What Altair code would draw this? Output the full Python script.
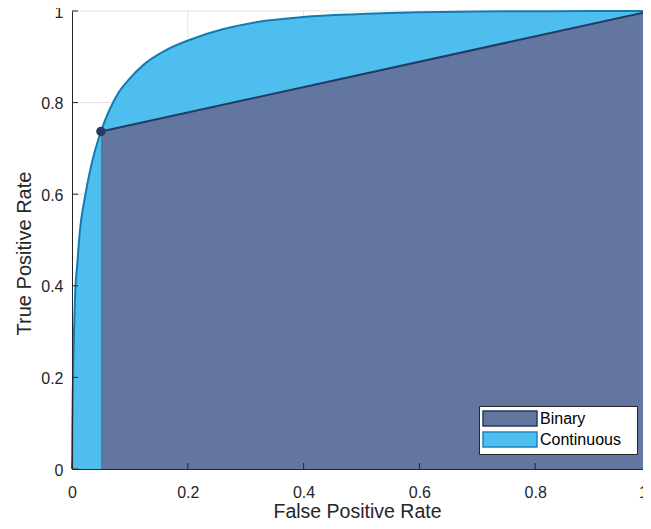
import altair as alt
import pandas as pd

# Continuous ROC curve
fpr = [0, 0.0005, 0.0012, 0.0023, 0.0035, 0.0052, 0.0092, 0.0138, 0.0225, 0.034,
       0.05, 0.065, 0.08, 0.10, 0.125, 0.16, 0.21, 0.26, 0.32, 0.40,
       0.49, 0.60, 0.70, 0.80, 0.90, 1.0]
tpr = [0, 0.085, 0.158, 0.231, 0.303, 0.376, 0.449, 0.522, 0.595, 0.667,
       0.737, 0.785, 0.821, 0.853, 0.884, 0.913, 0.940, 0.960, 0.976, 0.987,
       0.993, 0.997, 0.999, 0.9995, 1.0, 1.0]

# Binary classifier operating points
bin_fpr = [0.05, 1.0]
bin_tpr = [0.737, 1.0]

series_names = ["Binary", "Continuous"]
tick_values = [0, 0.2, 0.4, 0.6, 0.8, 1]
grid_values = [0.2, 0.4, 0.6, 0.8, 1]

W, H = 579, 458
FONT = "Liberation Sans"
AX = "#262626"
DARK_FILL = "#63769F"
LIGHT_FILL = "#4DBEEE"
CURVE = "#1679B0"
NAVY = "#233A63"

cont = pd.DataFrame({"fpr": fpr, "tpr": tpr, "series": "Continuous"})
binr = pd.DataFrame({"fpr": bin_fpr, "tpr": bin_tpr, "series": "Binary"})
ticks = pd.DataFrame({"v": tick_values})
grid = pd.DataFrame({"v": grid_values})

axis_x = alt.Axis(values=tick_values, format="~g", labelFont=FONT, labelFontSize=16,
                  labelColor=AX, labelPadding=15.5, labelFlush=False, labelOverlap=False,
                  labelOffset={"condition": {"test": "datum.value == 1", "value": -8}, "value": 0},
                  domainColor=AX, domainWidth=1, ticks=False, grid=False,
                  title="False Positive Rate", titleFont=FONT, titleFontSize=19.5,
                  titleFontWeight="normal", titleColor=AX, titleX=285, titleY=48,
                  titleBaseline="alphabetic", zindex=1)
axis_y = alt.Axis(values=tick_values, format="~g", labelFont=FONT, labelFontSize=16,
                  labelColor=AX, labelPadding=9, labelOffset=1, labelFlush=False,
                  labelOverlap=False, domainColor=AX, domainWidth=1, ticks=False,
                  grid=False, title="True Positive Rate", titleFont=FONT,
                  titleFontSize=20, titleFontWeight="normal", titleColor=AX,
                  titleX=-38, titleY=242, zindex=1)

sx = alt.Scale(domain=[0, 1], nice=False, zero=False)
sy = alt.Scale(domain=[0, 1], nice=False, zero=False)


def X(f):
    return alt.X(f"{f}:Q", scale=sx, axis=axis_x)


def Y(f):
    return alt.Y(f"{f}:Q", scale=sy, axis=axis_y)


legend = alt.Legend(title=None, orient="none", legendX=407, legendY=395,
                    fillColor="white", strokeColor=AX, padding=4,
                    symbolType="M-3.6,-1H3.6V1H-3.6Z", symbolSize=225,
                    symbolStrokeWidth=1.5, symbolOffset=18.5, labelOffset=21.5,
                    rowPadding=0, labelFont=FONT, labelFontSize=16, labelColor="black",
                    labelExpr="datum.label + '\u2800'")
fill_enc = alt.Fill("series:N", scale=alt.Scale(domain=series_names, range=[DARK_FILL, LIGHT_FILL]),
                    legend=legend)
stroke_enc = alt.Stroke("series:N", scale=alt.Scale(domain=series_names, range=[NAVY, "#1F83BE"]),
                        legend=legend)

grid_x = alt.Chart(grid).mark_rule(color="#E3E3E3", strokeWidth=1).encode(x=X("v"))
grid_y = alt.Chart(grid).mark_rule(color="#E3E3E3", strokeWidth=1).encode(y=Y("v"))

cont_area = alt.Chart(cont).mark_area(interpolate="monotone", strokeWidth=0).encode(
    x=X("fpr"), y=Y("tpr"), fill=fill_enc, stroke=stroke_enc)
bin_area = alt.Chart(binr).mark_area(strokeWidth=0).encode(
    x=X("fpr"), y=Y("tpr"), fill=fill_enc, stroke=stroke_enc)

cont_line = alt.Chart(cont).mark_line(interpolate="monotone", color=CURVE, strokeWidth=2).encode(
    x=X("fpr"), y=Y("tpr"))
bin_line = alt.Chart(binr).mark_line(color=NAVY, strokeWidth=2).encode(x=X("fpr"), y=Y("tpr"))
bin_pts = alt.Chart(binr).mark_point(filled=True, color=NAVY, size=90, opacity=1).encode(
    x=X("fpr"), y=Y("tpr"))

tick_x = alt.Chart(ticks).mark_rule(color=AX, strokeWidth=1).encode(
    x=X("v"), y=alt.value(H), y2=alt.value(H - 6))
tick_y = alt.Chart(ticks).mark_rule(color=AX, strokeWidth=1).encode(
    y=Y("v"), x=alt.value(0), x2=alt.value(6))

chart = alt.layer(grid_x, grid_y, cont_area, bin_area, cont_line, bin_line, bin_pts,
                  tick_x, tick_y).properties(
    width=W, height=H,
    autosize=alt.AutoSizeParams(type="none"),
    padding={"left": 64, "top": 3, "right": -8, "bottom": 52},
).configure_view(stroke=None).configure_legend(strokeWidth=1)

chart.save("out.html", embed_options={"renderer": "svg", "actions": False})
